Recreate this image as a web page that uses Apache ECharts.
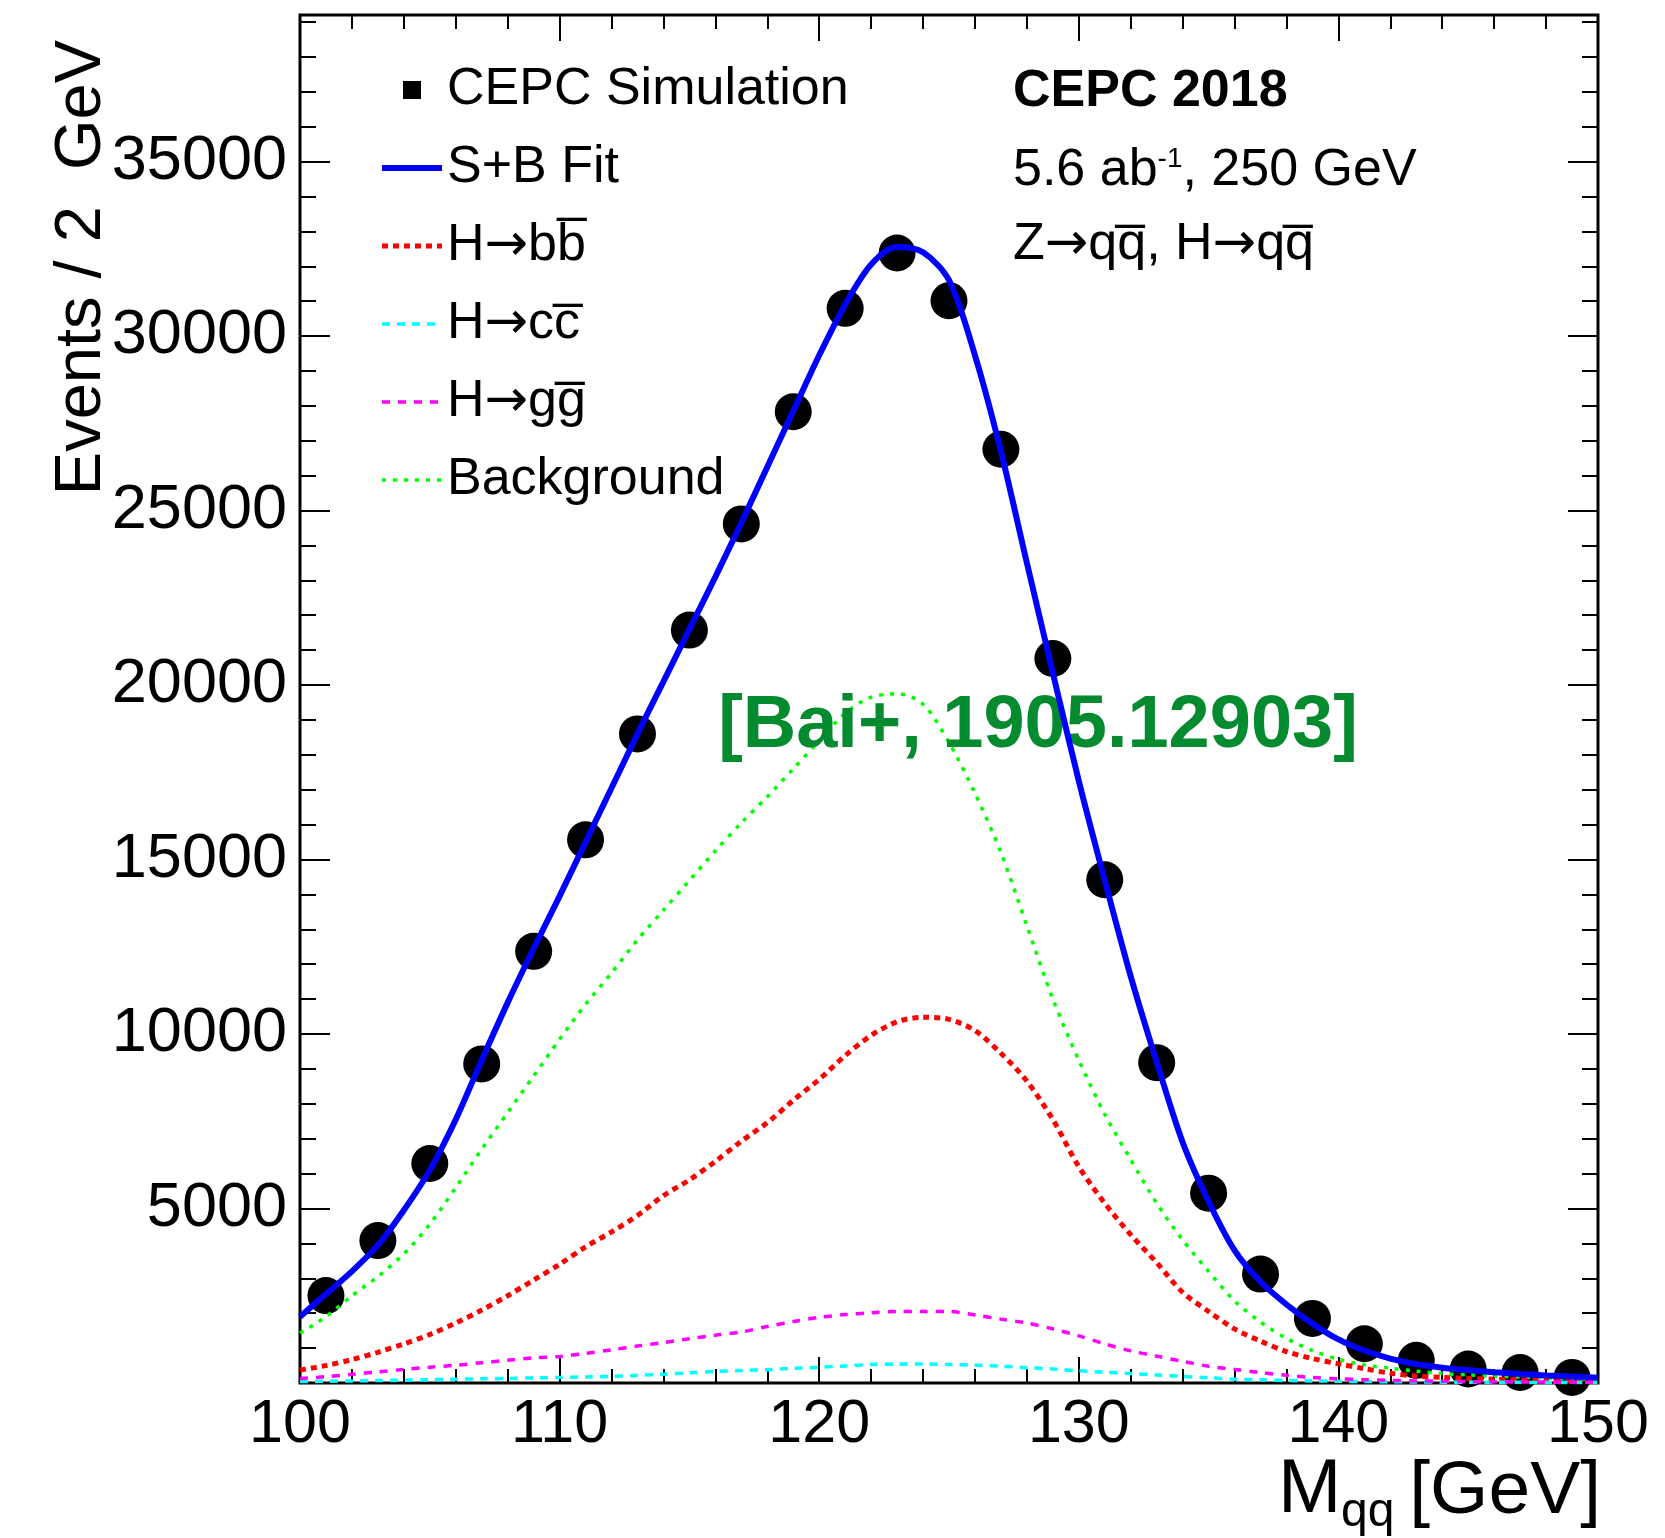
<!DOCTYPE html>
<html><head><meta charset="utf-8">
<script src="https://cdn.jsdelivr.net/npm/echarts@6/dist/echarts.min.js"></script>
<style>html,body{margin:0;padding:0;background:#fff}#c{width:1665px;height:1538px}</style>
</head><body><div id="c"></div>
<script>
// ---------- data ----------
const curveMass = [100,101,102,103,104,105,106,107,108,109,110,111,112,113,114,115,116,117,118,119,120,121,122,123,124,125,126,127,128,129,130,131,132,133,134,135,136,137,138,139,140,141,142,143,144,145,146,147,148,149,150];
const fitSB = [1900,2550,3200,3950,4950,6100,7550,9250,10900,12450,13950,15500,17050,18600,20100,21600,23100,24650,26250,27850,29450,30900,32050,32550,32400,31600,29450,26700,23500,20350,17250,14400,11650,9200,6900,5200,3800,2900,2250,1700,1250,930,700,540,440,370,310,260,215,185,150];
const hbb = [370,500,670,880,1120,1390,1720,2090,2500,2950,3400,3900,4330,4800,5370,5820,6350,6930,7460,8100,8700,9380,9960,10350,10480,10420,10100,9450,8650,7550,6200,5150,4250,3450,2600,2050,1550,1200,900,700,550,410,280,200,160,130,110,90,75,65,55];
const hcc = [40,50,60,70,80,95,110,120,130,145,160,175,190,220,250,290,330,360,380,420,450,490,530,540,545,530,510,480,440,400,350,310,270,230,190,150,110,90,70,60,50,42,35,30,25,22,20,18,15,13,12];
const hgg = [130,180,250,320,390,450,510,580,650,720,760,850,950,1060,1160,1270,1370,1460,1620,1760,1880,1960,2010,2050,2050,2050,1950,1830,1720,1550,1350,1120,920,770,620,480,390,300,220,160,120,95,75,60,50,40,35,30,25,20,18];
const background = [1430,1900,2500,3050,3700,4550,5600,6700,7750,8800,9850,10850,11750,12700,13550,14400,15250,16050,16800,17600,18400,19200,19650,19750,19450,18350,16900,15200,13100,11000,9250,7700,6400,5150,4100,3200,2350,1750,1280,930,680,520,420,340,270,230,200,170,145,120,100];
const binCenters = [101,103,105,107,109,111,113,115,117,119,121,123,125,127,129,131,133,135,137,139,141,143,145,147,149];
const simEvents = [2504,4080,6290,9143,12370,15565,18600,21575,24616,27832,30795,32380,31013,26757,20760,14420,9180,5440,3120,1850,1125,650,402,300,160];
const seriesNames = ['CEPC Simulation','S+B Fit','H→bb\u0305','H→cc\u0305','H→gg\u0305','Background'];
const xMin = 100, xMax = 150, yMin = 0, yMax = 39200;

// ---------- chart ----------
const FONT = '"Liberation Sans", Arial, Helvetica, sans-serif';
const ARROW_FONT = '"DejaVu Sans", sans-serif';
const pair = (xs, ys) => xs.map((x, i) => [x, ys[i]]);
const arrowRich = s => '{n|' + s.split('→').join('}{a|→}{n|') + '}';
const chart = echarts.init(document.getElementById('c'), null, {renderer: 'canvas'});

function xAxisDef(pos, interval, len, labels) {
  return {type: 'value', position: pos, min: xMin, max: xMax, interval: interval,
    axisLine: {show: false, onZero: false},
    axisTick: {show: true, inside: true, length: len, lineStyle: {color: '#000', width: 2}},
    splitLine: {show: false},
    axisLabel: {show: labels, margin: 12, fontSize: 61, fontFamily: FONT, color: '#000'}};
}
function yAxisDef(pos, interval, len, labels) {
  return {type: 'value', position: pos, min: yMin, max: yMax, interval: interval,
    axisLine: {show: false, onZero: false},
    axisTick: {show: true, inside: true, length: len, lineStyle: {color: '#000', width: 2}},
    splitLine: {show: false},
    axisLabel: {show: labels, margin: 13, fontSize: 63, fontFamily: FONT, color: '#000',
      formatter: v => (v > 0 && v % 5000 === 0) ? String(v) : ''}};
}
const richBase = {
  n: {fontSize: 52, fontFamily: FONT, color: '#000', fill: '#000'},
  a: {fontSize: 52, fontFamily: ARROW_FONT, color: '#000', fill: '#000'}
};

const option = {
  animation: false,
  backgroundColor: '#fff',
  grid: {left: 300, right: 67, top: 15, bottom: 155, show: true, borderColor: '#000', borderWidth: 3,
         backgroundColor: 'transparent', containLabel: false, outerBoundsMode: 'none'},
  xAxis: [xAxisDef('bottom', 10, 26, true), xAxisDef('bottom', 2, 14, false),
          xAxisDef('top', 10, 26, false), xAxisDef('top', 2, 14, false)],
  yAxis: [yAxisDef('left', 5000, 30, true), yAxisDef('left', 1000, 16, false),
          yAxisDef('right', 5000, 30, false), yAxisDef('right', 1000, 16, false)],
  legend: {
    orient: 'vertical', left: 374, top: 59, itemWidth: 60, itemHeight: 18, itemGap: 26,
    selectedMode: false,
    formatter: name => arrowRich(name),
    textStyle: {fontSize: 52, fontFamily: FONT, color: '#000', padding: [0, 0, 0, 0], rich: richBase},
    data: [
      {name: seriesNames[0], icon: 'path://M0,0L1,0L1,1L0,1Z', itemStyle: {color: '#000', opacity: 1}},
      {name: seriesNames[1], itemStyle: {opacity: 0}, lineStyle: {width: 6}},
      {name: seriesNames[2], itemStyle: {opacity: 0}, lineStyle: {width: 5}},
      {name: seriesNames[3], itemStyle: {opacity: 0}, lineStyle: {width: 3.5}},
      {name: seriesNames[4], itemStyle: {opacity: 0}, lineStyle: {width: 3.5}},
      {name: seriesNames[5], itemStyle: {opacity: 0}, lineStyle: {width: 3.5}}
    ]
  },
  graphic: [
    {type: 'text', x: 82, y: 40, rotation: Math.PI / 2, z: 10,
     style: {text: 'Events / 2  GeV', fontSize: 65, fontFamily: FONT, fill: '#000', align: 'right', verticalAlign: 'middle'}},
    {type: 'text', x: 1278, y: 1491, z: 10,
     style: {text: 'M', fontSize: 76, fontFamily: FONT, fill: '#000', align: 'left', verticalAlign: 'middle'}},
    {type: 'text', x: 1341, y: 1513, z: 10,
     style: {text: 'qq', fontSize: 48, fontFamily: FONT, fill: '#000', align: 'left', verticalAlign: 'middle'}},
    {type: 'text', x: 1601, y: 1492, z: 10,
     style: {text: '[GeV]', fontSize: 75, fontFamily: FONT, fill: '#000', align: 'right', verticalAlign: 'middle'}},
    {type: 'text', x: 1013, y: 92, z: 10,
     style: {text: 'CEPC 2018', fontSize: 52, fontWeight: 'bold', fontFamily: FONT, fill: '#000', align: 'left', verticalAlign: 'middle'}},
    {type: 'text', x: 1013, y: 171, z: 10,
     style: {text: '{n|5.6 ab}{s|-1}{n|, 250 GeV}', fontFamily: FONT, fill: '#000', align: 'left', verticalAlign: 'middle',
       rich: {n: {fontSize: 52, fontFamily: FONT, fill: '#000', verticalAlign: 'middle'},
              s: {fontSize: 28, fontFamily: FONT, fill: '#000', verticalAlign: 'top'}}}},
    {type: 'text', x: 1013, y: 245, z: 10,
     style: {text: arrowRich('Z→qq\u0305, H→qq\u0305'), fontSize: 52, fontFamily: FONT, fill: '#000', align: 'left', verticalAlign: 'middle',
       rich: richBase}},
    {type: 'text', x: 1038, y: 727, z: 3,
     style: {text: '[Bai+, 1905.12903]', fontSize: 74, fontWeight: 'bold', fontFamily: FONT, fill: '#048a2f', align: 'center', verticalAlign: 'middle'}}
  ],
  series: [
    {name: seriesNames[0], type: 'scatter', z: 1, data: pair(binCenters, simEvents),
     symbol: 'circle', symbolSize: 37, itemStyle: {color: '#000', opacity: 1}},
    {name: seriesNames[5], type: 'line', z: 2, data: pair(curveMass, background), smooth: 0.3,
     symbol: 'none', lineStyle: {color: '#00ff00', width: 3.5, type: [4, 7]}, itemStyle: {color: '#00ff00'}},
    {name: seriesNames[2], type: 'line', z: 2, data: pair(curveMass, hbb), smooth: 0.3,
     symbol: 'none', lineStyle: {color: '#ff0000', width: 5, type: [6, 5]}, itemStyle: {color: '#ff0000'}},
    {name: seriesNames[3], type: 'line', z: 2, data: pair(curveMass, hcc), smooth: 0.3,
     symbol: 'none', lineStyle: {color: '#00ffff', width: 3.5, type: [8, 7]}, itemStyle: {color: '#00ffff'}},
    {name: seriesNames[4], type: 'line', z: 2, data: pair(curveMass, hgg), smooth: 0.3,
     symbol: 'none', lineStyle: {color: '#ff00ff', width: 3.5, type: [8, 8]}, itemStyle: {color: '#ff00ff'}},
    {name: seriesNames[1], type: 'line', z: 5, data: pair(curveMass, fitSB), smooth: 0.3,
     symbol: 'none', lineStyle: {color: '#0000ff', width: 6, type: 'solid'}, itemStyle: {color: '#0000ff'}}
  ]
};
chart.setOption(option);
</script>
</body></html>
